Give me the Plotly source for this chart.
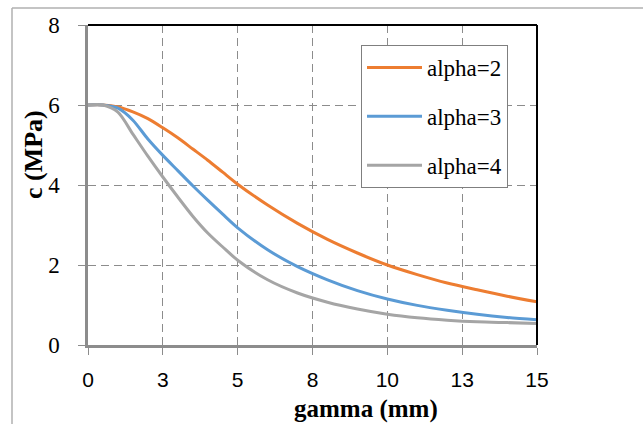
import plotly.graph_objects as go

# ---- data ----
gamma_mm = [0, 0.5, 1, 1.5, 2, 2.5, 3, 3.5, 4, 4.5, 5, 6, 7, 8, 9, 10, 11, 12, 13, 14, 15]
c_alpha2 = [6.00, 6.00, 5.95, 5.83, 5.66, 5.43, 5.18, 4.90, 4.62, 4.32, 4.02, 3.50, 3.04, 2.64,
            2.30, 2.00, 1.76, 1.55, 1.38, 1.22, 1.08]
c_alpha3 = [6.00, 6.00, 5.92, 5.62, 5.15, 4.74, 4.36, 3.98, 3.62, 3.27, 2.93, 2.38, 1.96, 1.63,
            1.36, 1.15, 0.99, 0.87, 0.77, 0.69, 0.63]
c_alpha4 = [6.00, 6.00, 5.82, 5.27, 4.72, 4.20, 3.70, 3.22, 2.80, 2.45, 2.12, 1.63, 1.30, 1.07,
            0.90, 0.77, 0.68, 0.62, 0.58, 0.56, 0.54]
series_names = ["alpha=2", "alpha=3", "alpha=4"]
series_colors = ["#ED7D31", "#5B9BD5", "#A5A5A5"]

x_tick_vals = [0, 2.5, 5, 7.5, 10, 12.5, 15]
x_tick_text = ["0", "3", "5", "8", "10", "13", "15"]
y_tick_vals = [0, 2, 4, 6, 8]

SERIF = "Liberation Serif"
SANS = "Liberation Sans"

fig = go.Figure()
for i, (name, ys) in enumerate(zip(series_names, [c_alpha2, c_alpha3, c_alpha4])):
    fig.add_trace(go.Scatter(
        x=gamma_mm, y=ys, mode="lines", name=name,
        line=dict(color=series_colors[i], width=3, shape="spline", smoothing=0.8),
        legendgroup=f"g{i}",
    ))

W, H = 643, 424
L, R, T, B = 88, 106, 25, 79
pw, ph = W - L - R, H - T - B

def px_x(px):
    return (px - L) / pw

def px_y(py):
    return (H - B - py) / ph

grid = dict(showgrid=True, gridcolor="#8C8C8C", gridwidth=1, griddash="8px,5px")

fig.update_layout(
    width=W, height=H,
    margin=dict(l=L, r=R, t=T, b=B, pad=0),
    paper_bgcolor="white", plot_bgcolor="white",
    showlegend=True,
    legend=dict(
        x=px_x(361), y=px_y(45), xanchor="left", yanchor="top",
        bgcolor="white", bordercolor="#7F7F7F", borderwidth=1,
        font=dict(family=SERIF, size=23, color="black"),
        traceorder="grouped", tracegroupgap=16,
        itemwidth=55,
    ),
    xaxis=dict(
        range=[0, 15], tickvals=x_tick_vals, ticktext=x_tick_text,
        tickfont=dict(family=SANS, size=21, color="black"),
        ticks="outside", ticklen=7, tickcolor="#8C8C8C", tickwidth=1,
        showline=True, linecolor="#8C8C8C", linewidth=2.5,
        zeroline=False, ticklabelstandoff=7, **grid,
    ),
    yaxis=dict(
        range=[0, 8], tickvals=y_tick_vals,
        tickfont=dict(family=SERIF, size=23, color="black"),
        ticks="outside", ticklen=7, tickcolor="#8C8C8C", tickwidth=1,
        showline=True, linecolor="#8C8C8C", linewidth=2.5,
        zeroline=False, ticklabelstandoff=14, **grid,
    ),
    shapes=[
        # black top and right plot borders
        dict(type="line", xref="paper", yref="paper", x0=0, x1=1, y0=1, y1=1,
             line=dict(color="black", width=2)),
        dict(type="line", xref="paper", yref="paper", x0=1, x1=1, y0=0, y1=1,
             line=dict(color="black", width=2)),
        # outer chart frame (left and top)
        dict(type="line", xref="paper", yref="paper", x0=px_x(12), x1=px_x(12),
             y0=px_y(8), y1=px_y(H + 5), line=dict(color="#B0B0B0", width=1.5)),
        dict(type="line", xref="paper", yref="paper", x0=px_x(12), x1=px_x(W + 5),
             y0=px_y(8), y1=px_y(8), line=dict(color="#B0B0B0", width=1.5)),
    ],
    annotations=[
        dict(text="<b>c (MPa)</b>", xref="paper", yref="paper",
             x=px_x(33), y=px_y(155), textangle=-90, showarrow=False,
             xanchor="center", yanchor="middle",
             font=dict(family=SERIF, size=26, color="black")),
        dict(text="<b>gamma (mm)</b>", xref="paper", yref="paper",
             x=px_x(366), y=px_y(409), showarrow=False,
             xanchor="center", yanchor="middle",
             font=dict(family=SERIF, size=25, color="black")),
    ],
)

fig.write_html("out.html", config={"displayModeBar": False},
               post_script="document.body.style.margin='0';")
